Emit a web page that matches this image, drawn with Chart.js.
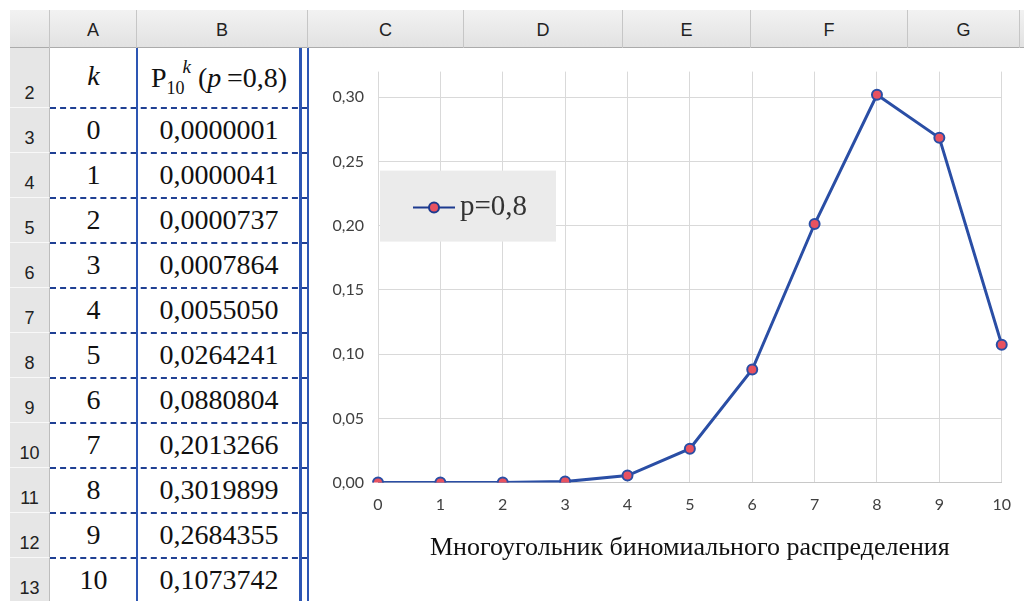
<!DOCTYPE html>
<html>
<head>
<meta charset="utf-8">
<script src="https://cdn.jsdelivr.net/npm/chart.js@4/dist/chart.umd.min.js"></script>
<style>
  body { margin: 0; width: 1024px; height: 601px; overflow: hidden; background: #fff; position: relative; font-family: "Liberation Sans", Arial, sans-serif; }
  .hdr { position: absolute; top: 10px; height: 38px; background: linear-gradient(#f2f2f2, #e2e2e2); border-bottom: 1px solid #ababab; box-sizing: border-box; }
  .colh { position: absolute; top: 10px; height: 38px; line-height: 40px; text-align: center; font-size: 18px; color: #222; border-right: 1px solid #c6c6c6; box-sizing: border-box; }
  .rowh { position: absolute; left: 10px; width: 40px; background: #e6e6e6; border-bottom: 1px solid #f8f8f8; border-right: 1px solid #bdbdbd; box-sizing: border-box; font-size: 18px; color: #222; text-align: center; }
  .rowh span { position: absolute; left: 0; right: 0; bottom: 3px; }
  .cell { position: absolute; text-align: center; font-family: "Liberation Serif", "Times New Roman", serif; font-size: 28px; color: #111; white-space: nowrap; }
  .dash { position: absolute; left: 50px; width: 258px; border-top: 2px dashed #1f3f93; }
  .vline { position: absolute; top: 48px; bottom: 0; background: #2d56b3; }
  #wrap { position: absolute; left: 310px; top: 48px; width: 714px; height: 553px; }
</style>
</head>
<body>
<div class="hdr" style="left:10px;right:0"></div>
<div id="sheet"></div>
<div class="vline" style="left:136px;width:2px"></div>
<div class="vline" style="left:299px;width:3px"></div>
<div class="vline" style="left:307px;width:2px"></div>
<div id="wrap"><canvas id="grafico"></canvas></div>

<script>
// dados do grafico
var kValues = ['0', '1', '2', '3', '4', '5', '6', '7', '8', '9', '10'];
var probValues = [0.0000001, 0.0000041, 0.0000737, 0.0007864, 0.0055050, 0.0264241, 0.0880804, 0.2013266, 0.3019899, 0.2684355, 0.1073742];
var serieLabel = 'p=0,8';
var tituloX = 'Многоугольник биномиального распределения';
var colunas = ['A', 'B', 'C', 'D', 'E', 'F', 'G'];

// planilha ao lado
var colLeft = [50, 137, 308, 464, 623, 751, 908, 1020];
var sheet = document.getElementById('sheet');
var html = '<div class="colh" style="left:10px;width:40px"></div>';
for (var i = 0; i < colunas.length; i++) {
    html += `<div class="colh" style="left:${colLeft[i]}px;width:${colLeft[i + 1] - colLeft[i]}px">${colunas[i]}</div>`;
}

var yTop = 48;
for (var r = 0; r < kValues.length + 1; r++) {
    var h = r == 0 ? 60 : 45;
    html += `<div class="rowh" style="top:${yTop}px;height:${h}px"><span>${r + 2}</span></div>`;
    if (r == 0) {
        html += `<div class="cell" style="left:50px;width:87px;top:${yTop + 12}px"><i>k</i></div>`;
        html += `<div class="cell" style="left:137px;width:164px;top:${yTop + 12}px">P<sub style="font-size:18px">10</sub><sup style="font-size:19px;position:relative;top:-4px;margin-left:-2px"><i>k</i></sup> (<i>p</i>&thinsp;=0,8)</div>`;
    } else {
        html += `<div class="cell" style="left:50px;width:87px;top:${yTop + 6}px">${kValues[r - 1]}</div>`;
        html += `<div class="cell" style="left:137px;width:164px;top:${yTop + 6}px">${probValues[r - 1].toFixed(7).replace('.', ',')}</div>`;
    }
    yTop += h;
    html += `<div class="dash" style="top:${yTop - 1}px"></div>`;
}
sheet.innerHTML = html;

/* ------------------------------------
                CHARTJS
----------------------------------------- */
const legendaDentro = {
    id: 'legendaDentro',
    beforeDatasetsDraw(chart) {
        const ctx = chart.ctx;
        const a = chart.chartArea;
        const ds = chart.data.datasets[0];
        const x = a.left + 2;
        const y = a.top + 99;
        ctx.save();
        ctx.fillStyle = '#ebebeb';
        ctx.fillRect(x, y, 176, 71);
        ctx.strokeStyle = '#1d3a8f';
        ctx.lineWidth = 2;
        ctx.beginPath();
        ctx.moveTo(x + 33, y + 37);
        ctx.lineTo(x + 75, y + 37);
        ctx.stroke();
        ctx.beginPath();
        ctx.arc(x + 54, y + 37, 5, 0, Math.PI * 2);
        ctx.fillStyle = ds.pointBackgroundColor;
        ctx.fill();
        ctx.stroke();
        ctx.fillStyle = '#333';
        ctx.font = '29px "Liberation Serif"';
        ctx.textBaseline = 'middle';
        ctx.fillText(ds.label, x + 80, y + 37);
        ctx.restore();
    }
};

const data1 = {
    labels: kValues,
    datasets: [{
        label: serieLabel,
        data: probValues,
        borderColor: '#2a4ea5',
        borderWidth: 3,
        pointRadius: 5,
        pointBackgroundColor: '#e85260',
        pointBorderColor: '#2a4ea5',
        pointBorderWidth: 2,
        tension: 0
    }]
};

const myChart = new Chart(document.getElementById('grafico'), {
    type: 'line',
    data: data1,
    plugins: [legendaDentro],
    options: {
        responsive: true,
        maintainAspectRatio: false,
        animation: false,
        layout: { padding: { left: 8, right: 22, top: 12, bottom: 33 } },
        plugins: { legend: { display: false }, tooltip: { enabled: false } },
        scales: {
            x: {
                offset: false,
                grid: { color: '#d9d9d9', drawTicks: false },
                border: { color: '#c8c8c8' },
                ticks: { padding: 13, color: '#404040', font: { family: 'Lato', size: 16 }, maxRotation: 0 },
                title: { display: true, text: tituloX, color: '#111', padding: { top: 5 }, font: { family: 'Liberation Serif', size: 26 } }
            },
            y: {
                min: 0,
                max: 0.32,
                grid: { color: '#d9d9d9', drawTicks: false },
                border: { display: false },
                afterFit: function (scale) { scale.width = 60; },
                afterBuildTicks: function (scale) {
                    scale.ticks = scale.ticks.filter(t => Math.abs(t.value * 20 - Math.round(t.value * 20)) < 1e-6);
                },
                ticks: {
                    stepSize: 0.05,
                    padding: 14,
                    color: '#404040',
                    font: { family: 'Lato', size: 16 },
                    callback: v => v.toFixed(2).replace('.', ',')
                }
            }
        }
    }
});
</script>
</body>
</html>
